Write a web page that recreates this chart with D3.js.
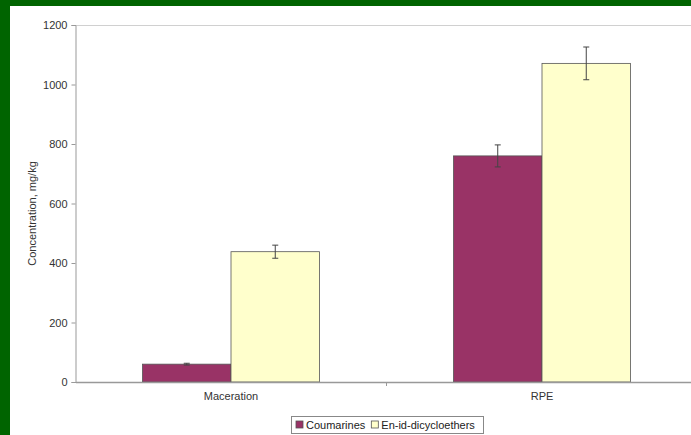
<!DOCTYPE html>
<html><head><meta charset="utf-8">
<script src="https://cdn.jsdelivr.net/npm/d3@7"></script>
<style>body{margin:0;background:#006400;}svg{display:block;}</style>
</head><body>
<svg id="c" width="691" height="435"></svg>
<script>
const categories = ["Maceration", "RPE"];
const seriesNames = ["Coumarines", "En-id-dicycloethers"];
const coumarines = [60, 760];
const coumarinesErr = [3, 37];
const dicycloethers = [438, 1071];
const dicycloethersErr = [22, 55];
const yTicks = [0, 200, 400, 600, 800, 1000, 1200];
const colors = ["#993366", "#FFFFCC"];

(function () {
const svg = d3.select("#c");
svg.append("rect").attr("x", 10).attr("y", 6).attr("width", 691).attr("height", 435).attr("fill", "#fff");

const mLeft = 75.5, mRight = 697.5, mTop = 25, mBottom = 382;
const x = d3.scaleBand().domain(categories).range([mLeft, mRight]).paddingInner(0).paddingOuter(0);
const xs = d3.scaleBand().domain(seriesNames).range([0, x.bandwidth()]).paddingInner(0).paddingOuter(0.757);
const y = d3.scaleLinear().domain([0, 1200]).range([mBottom, mTop]);

const font = "'Liberation Sans', Arial, sans-serif";

svg.append("line").attr("x1", mLeft).attr("x2", 691).attr("y1", mTop + 0.5).attr("y2", mTop + 0.5).attr("stroke", "#d0d0d0");

const series = [
  {name: seriesNames[0], vals: coumarines, err: coumarinesErr, color: colors[0]},
  {name: seriesNames[1], vals: dicycloethers, err: dicycloethersErr, color: colors[1]}
];
const data = [];
series.forEach(s => categories.forEach((c, i) => data.push({cat: c, s: s.name, v: s.vals[i], e: s.err[i], color: s.color})));

svg.selectAll("rect.bar").data(data).enter().append("rect").attr("class", "bar")
  .attr("x", d => x(d.cat) + xs(d.s))
  .attr("y", d => y(d.v))
  .attr("width", xs.bandwidth())
  .attr("height", d => y(0) - y(d.v))
  .attr("fill", d => d.color)
  .attr("stroke", "#555")
  .attr("stroke-width", 0.8);

const eg = svg.selectAll("g.err").data(data).enter().append("g").attr("class", "err")
  .attr("stroke", "#444").attr("stroke-width", 1);
const cx = d => x(d.cat) + xs(d.s) + xs.bandwidth() / 2;
eg.append("line").attr("x1", cx).attr("x2", cx)
  .attr("y1", d => y(d.v + d.e)).attr("y2", d => y(d.v - d.e));
[1, -1].forEach(sg => {
  eg.append("line")
    .attr("x1", d => cx(d) - 3).attr("x2", d => cx(d) + 3)
    .attr("y1", d => y(d.v + sg * d.e)).attr("y2", d => y(d.v + sg * d.e));
});

const yAxis = d3.axisLeft(y).tickValues(yTicks).tickFormat(d3.format("d")).tickSize(4).tickPadding(4);
const ya = svg.append("g").attr("transform", `translate(${mLeft},0)`).call(yAxis);
ya.select(".domain").attr("stroke", "#999");
ya.selectAll(".tick line").attr("stroke", "#999");
ya.selectAll("text").attr("font-family", font).attr("font-size", 11).attr("fill", "#333");

const xAxis = d3.axisBottom(x).tickSize(0).tickPadding(10);
const xa = svg.append("g").attr("transform", `translate(0,${mBottom})`).call(xAxis);
xa.select(".domain").attr("stroke", "#999").attr("stroke-width", 1.5);
xa.selectAll("text").attr("font-family", font).attr("font-size", 11).attr("fill", "#333");
xa.append("line").attr("x1", x("RPE")).attr("x2", x("RPE")).attr("y1", 0).attr("y2", 4).attr("stroke", "#999");

svg.append("text").attr("transform", `translate(36,${(mTop + mBottom) / 2 + 10}) rotate(-90)`)
  .attr("text-anchor", "middle").attr("font-family", font).attr("font-size", 11).attr("fill", "#333")
  .text("Concentration, mg/kg");

const lg = svg.append("g").attr("transform", "translate(291,416)");
lg.append("rect").attr("x", 0.5).attr("y", 0.5).attr("width", 192).attr("height", 17).attr("fill", "#fff").attr("stroke", "#888");
let lx = 5;
series.forEach(s => {
  lg.append("rect").attr("x", lx).attr("y", 5).attr("width", 7).attr("height", 7).attr("fill", s.color).attr("stroke", "#555").attr("stroke-width", 0.8);
  const t = lg.append("text").attr("x", lx + 10).attr("y", 13).attr("font-family", font).attr("font-size", 11).attr("fill", "#222").text(s.name);
  lx += 10 + t.node().getComputedTextLength() + 6;
});
})();
</script>
</body></html>
